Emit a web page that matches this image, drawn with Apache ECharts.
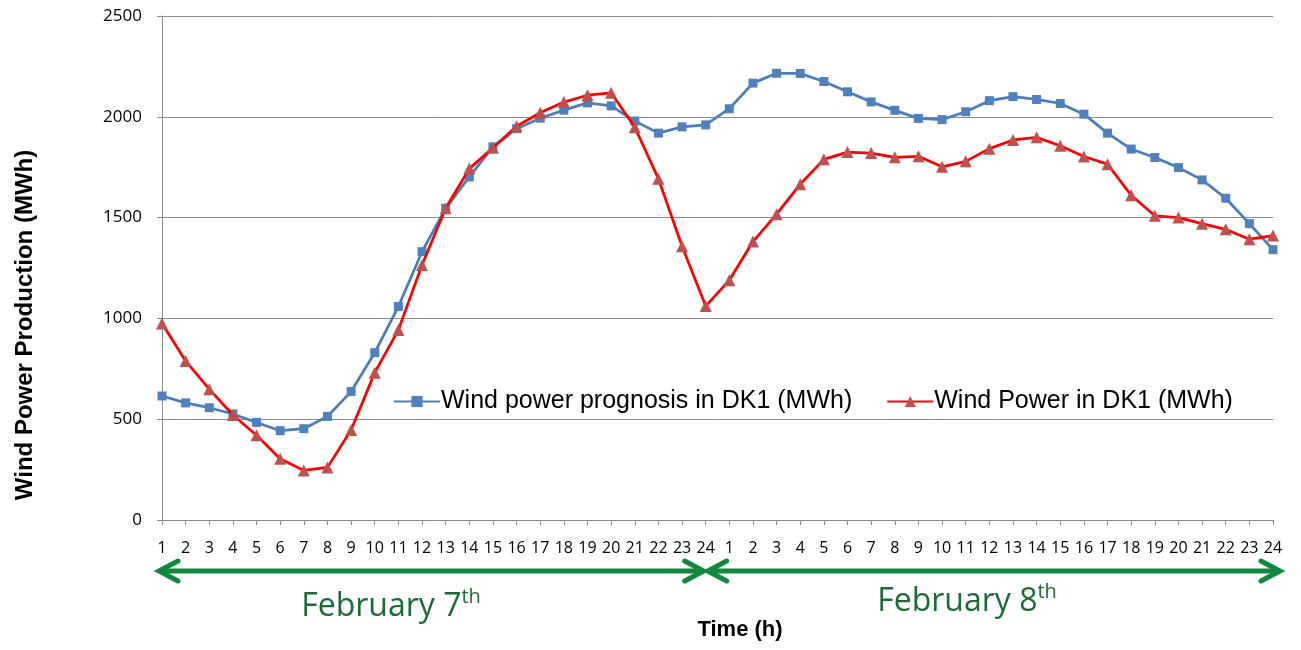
<!DOCTYPE html>
<html>
<head>
<meta charset="utf-8">
<script src="https://cdn.jsdelivr.net/npm/echarts@6/dist/echarts.min.js"></script>
<style>
html,body{margin:0;padding:0;background:#fff;}
#c{width:1301px;height:650px;}
</style>
</head>
<body>
<div id="c"></div>
<script>
const hours = ['1','2','3','4','5','6','7','8','9','10','11','12','13','14','15','16','17','18','19','20','21','22','23','24'];
const dayLabels = ['February 7', 'February 8'];
const prognosisDay1 = [615, 581, 557, 526, 484, 443, 453, 514, 637, 830, 1059, 1331, 1546, 1702, 1851, 1941, 1993, 2033, 2069, 2054, 1979, 1919, 1950, 1960];
const prognosisDay2 = [2040, 2167, 2216, 2215, 2175, 2124, 2074, 2032, 1992, 1986, 2025, 2080, 2100, 2086, 2066, 2013, 1919, 1840, 1798, 1748, 1687, 1596, 1470, 1341];
const actualDay1 = [975, 789, 649, 521, 420, 304, 246, 261, 446, 731, 943, 1265, 1546, 1743, 1846, 1953, 2020, 2073, 2107, 2119, 1948, 1693, 1358, 1061];
const actualDay2 = [1189, 1381, 1517, 1666, 1789, 1825, 1820, 1799, 1804, 1752, 1779, 1842, 1885, 1898, 1856, 1803, 1765, 1611, 1509, 1500, 1470, 1442, 1393, 1411];
const seriesNames = ['Wind power prognosis in DK1 (MWh)', 'Wind Power in DK1 (MWh)'];

const categories = hours.concat(hours);
const prognosis = prognosisDay1.concat(prognosisDay2);
const actual = actualDay1.concat(actualDay2);

const chart = echarts.init(document.getElementById('c'), null, {renderer: 'canvas'});
const gray = '#8c8c8c';
const option = {
  backgroundColor: '#ffffff',
  animation: false,
  grid: {left: 162, right: 28, top: 16, bottom: 130, containLabel: false},
  legend: {
    left: 388, top: 384,
    itemWidth: 46, itemHeight: 14, itemGap: 34,
    textStyle: {fontFamily: 'Liberation Sans', fontSize: 25, color: '#000', padding: [0, 0, 0, -4]},
    data: seriesNames
  },
  xAxis: {
    type: 'category',
    data: categories,
    boundaryGap: false,
    axisLine: {lineStyle: {color: gray, width: 1}},
    axisTick: {show: true, interval: 0, length: 5, lineStyle: {color: gray}},
    axisLabel: {interval: 0, margin: 20, fontFamily: 'Open Sans', fontSize: 16, color: '#000'},
    splitLine: {show: false}
  },
  yAxis: {
    type: 'value',
    min: 0, max: 2500, interval: 500,
    axisLine: {show: true, lineStyle: {color: gray, width: 1}},
    axisTick: {show: true, length: 5, lineStyle: {color: gray}},
    axisLabel: {margin: 20, fontFamily: 'Open Sans', fontSize: 17, color: '#000', formatter: function (v) { return String(v); }},
    splitLine: {show: true, lineStyle: {color: gray, width: 1}}
  },
  series: [
    {
      name: seriesNames[0], type: 'line', data: prognosis,
      symbol: 'rect', symbolSize: 9,
      lineStyle: {color: '#4A7EBB', width: 2.75},
      itemStyle: {color: '#4F81BD'},
      z: 3
    },
    {
      name: seriesNames[1], type: 'line', data: actual,
      symbol: 'triangle', symbolSize: 12,
      lineStyle: {color: '#FF0000', width: 2.75},
      itemStyle: {color: '#C0504D'},
      z: 4
    }
  ]
};
chart.setOption(option);

const green = '#10893E';
const textGreen = '#1B6B36';
const ay = 571;
function px(i){ return chart.convertToPixel({xAxisIndex: 0}, i); }
const xa = px(0) - 4, xm = px(23), xb = px(47) + 8;
function arrow(x1, x2){
  return [
    {type: 'line', shape: {x1: x1 + 1, y1: ay, x2: x2 - 1, y2: ay}, style: {stroke: green, lineWidth: 5}},
    {type: 'polyline', shape: {points: [[x1 + 20, ay - 10], [x1 + 1, ay], [x1 + 20, ay + 10]]}, style: {stroke: green, lineWidth: 5, fill: null, lineCap: 'round', lineJoin: 'miter'}},
    {type: 'polyline', shape: {points: [[x2 - 20, ay - 10], [x2 - 1, ay], [x2 - 20, ay + 10]]}, style: {stroke: green, lineWidth: 5, fill: null, lineCap: 'round', lineJoin: 'miter'}}
  ];
}
const richFeb = {
  m: {fontFamily: 'Open Sans', fontSize: 32, fill: textGreen, color: textGreen, lineHeight: 40},
  s: {fontFamily: 'Open Sans', fontSize: 20, fill: textGreen, color: textGreen, verticalAlign: 'top', lineHeight: 40, padding: [0, 0, 14, 0]}
};
const elements = [].concat(
  arrow(xa, xm - 1),
  arrow(xm + 1, xb),
  [
    {type: 'text', x: 391, y: 607, style: {text: '{m|' + dayLabels[0] + '}{s|th}', rich: richFeb, align: 'center', verticalAlign: 'middle', textAlign: 'center', textVerticalAlign: 'middle'}},
    {type: 'text', x: 967, y: 602, style: {text: '{m|' + dayLabels[1] + '}{s|th}', rich: richFeb, align: 'center', verticalAlign: 'middle', textAlign: 'center', textVerticalAlign: 'middle'}},
    {type: 'text', x: 740, y: 630, style: {text: 'Time (h)', fontFamily: 'Liberation Sans', fontWeight: 'bold', fontSize: 22, fill: '#000', align: 'center', verticalAlign: 'middle', textAlign: 'center', textVerticalAlign: 'middle'}},
    {type: 'text', x: 25, y: 325, rotation: Math.PI / 2, style: {text: 'Wind Power Production (MWh)', fontFamily: 'Liberation Sans', fontWeight: 'bold', fontSize: 24, fill: '#000', align: 'center', verticalAlign: 'middle', textAlign: 'center', textVerticalAlign: 'middle'}}
  ]
);
chart.setOption({graphic: {elements: elements}});
</script>
</body>
</html>
